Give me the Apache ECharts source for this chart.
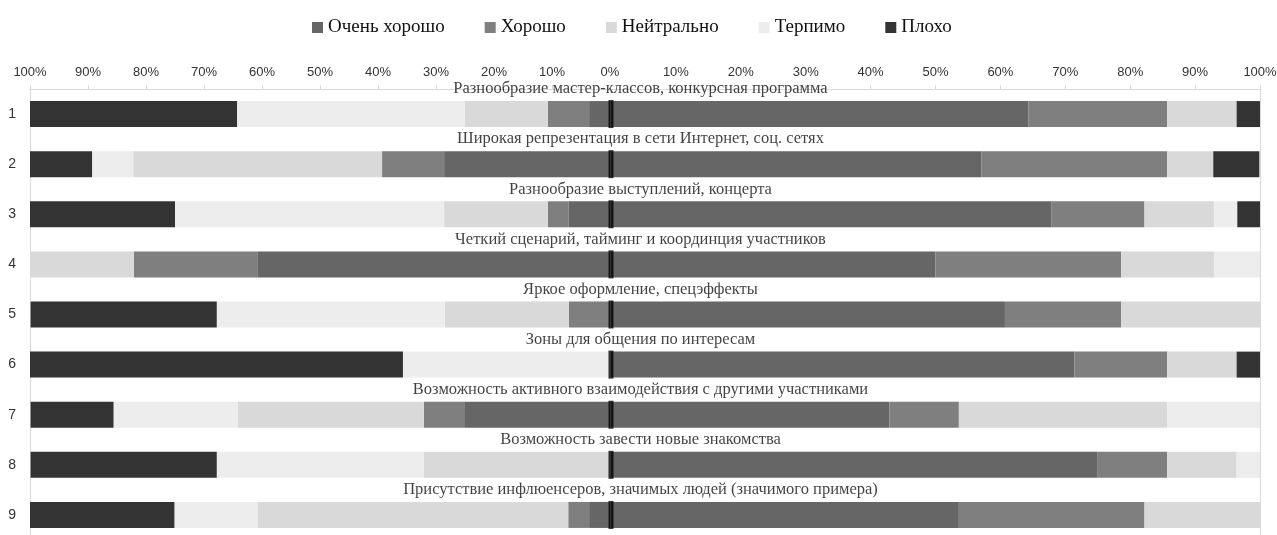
<!DOCTYPE html>
<html>
<head>
<meta charset="utf-8">
<script src="https://cdn.jsdelivr.net/npm/echarts@6/dist/echarts.min.js"></script>
<style>
  html, body { margin: 0; padding: 0; background: #fff; }
  #chart { width: 1277px; height: 535px; }
</style>
</head>
<body>
<div id="chart"></div>
<script>
const rows = ['1', '2', '3', '4', '5', '6', '7', '8', '9'];
const titles = [
  'Разнообразие мастер-классов, конкурсная программа',
  'Широкая репрезентация в сети Интернет, соц. сетях',
  'Разнообразие выступлений, концерта',
  'Четкий сценарий, тайминг и координция участников',
  'Яркое оформление, спецэффекты',
  'Зоны для общения по интересам',
  'Возможность активного взаимодействия с другими участниками',
  'Возможность завести новые знакомства',
  'Присутствие инфлюенсеров, значимых людей (значимого примера)'
];
const names = ['Очень хорошо', 'Хорошо', 'Нейтрально', 'Терпимо', 'Плохо'];
const colors = ['#666666', '#7f7f7f', '#d9d9d9', '#ededed', '#333333'];

// left half, % (drawn from 0 outwards to the left)
const leftVeryGood = [3.6, 28.6, 7.1, 60.7, 0, 0, 25.0, 0, 3.6];
const leftGood = [7.1, 10.7, 3.6, 21.4, 7.1, 0, 7.1, 0, 3.6];
const leftNeutral = [14.3, 42.9, 17.9, 17.9, 21.4, 0, 32.1, 32.1, 53.6];
const leftTolerable = [39.3, 7.1, 46.4, 0, 39.3, 35.7, 21.4, 35.7, 14.3];
const leftBad = [35.7, 10.7, 25.0, 0, 32.1, 64.3, 14.3, 32.1, 25.0];

// right half, %
const rightVeryGood = [64.3, 57.1, 67.9, 50.0, 60.7, 71.4, 42.9, 75.0, 53.6];
const rightGood = [21.4, 28.6, 14.3, 28.6, 17.9, 14.3, 10.7, 10.7, 28.6];
const rightNeutral = [10.7, 7.1, 10.7, 14.3, 21.4, 10.7, 32.1, 10.7, 17.9];
const rightTolerable = [0, 0, 3.6, 7.1, 0, 0, 14.3, 3.6, 0];
const rightBad = [3.6, 7.1, 3.6, 0, 0, 3.6, 0, 0, 0];

const leftData = [leftVeryGood, leftGood, leftNeutral, leftTolerable, leftBad];
const rightData = [rightVeryGood, rightGood, rightNeutral, rightTolerable, rightBad];

const axisGray = '#d9d9d9';
const labelFont = { color: '#333', fontFamily: 'Liberation Sans, Arial', fontSize: 13 };

function pctAxis(idx, inverse) {
  return {
    gridIndex: idx,
    type: 'value',
    min: 0,
    max: 100,
    interval: 10,
    inverse: inverse,
    position: 'top',
    axisLine: { show: true, lineStyle: { color: axisGray } },
    axisTick: { show: true, length: 4, lineStyle: { color: axisGray } },
    axisLabel: Object.assign({ formatter: '{value}%', margin: 10, showMinLabel: inverse }, labelFont),
    splitLine: { show: false }
  };
}

function barSeries(side, data, i) {
  return {
    name: names[i],
    type: 'bar',
    stack: side,
    xAxisIndex: side === 'L' ? 0 : 1,
    yAxisIndex: side === 'L' ? 0 : 1,
    barWidth: 26,
    itemStyle: { color: colors[i] },
    data: data
  };
}

const series = [];
leftData.forEach((d, i) => series.push(barSeries('L', d, i)));
rightData.forEach((d, i) => series.push(barSeries('R', d, i)));

// black zero marker on each row
series.push({
  type: 'scatter',
  xAxisIndex: 1,
  yAxisIndex: 1,
  symbol: 'rect',
  symbolSize: [5, 28],
  itemStyle: { color: '#000' },
  z: 10,
  silent: true,
  clip: false,
  data: rows.map((r, i) => [0, i])
});

// row titles, centred across the whole chart
series.push({
  type: 'scatter',
  xAxisIndex: 2,
  yAxisIndex: 2,
  symbolSize: 1,
  itemStyle: { color: 'transparent' },
  silent: true,
  z: 11,
  label: {
    show: true,
    position: 'inside',
    offset: [2, -25],
    formatter: p => titles[p.dataIndex],
    fontFamily: 'Liberation Serif, Times New Roman',
    fontSize: 16.5,
    color: '#111'
  },
  data: rows.map((r, i) => [0.5, i])
});

const gridBase = { top: 89, height: 451, outerBoundsMode: 'none', containLabel: false };

const option = {
  animation: false,
  backgroundColor: '#fff',
  legend: {
    data: names,
    top: 13,
    left: 307,
    icon: 'rect',
    itemWidth: 11,
    itemHeight: 11,
    itemGap: 40,
    textStyle: { fontFamily: 'Liberation Serif, Times New Roman', fontSize: 19, color: '#111' }
  },
  grid: [
    Object.assign({ left: 30, width: 580 }, gridBase),
    Object.assign({ left: 611, right: 17 }, gridBase),
    Object.assign({ left: 0, right: 0 }, gridBase)
  ],
  xAxis: [
    pctAxis(0, true),
    pctAxis(1, false),
    { gridIndex: 2, type: 'value', min: 0, max: 1, show: false }
  ],
  yAxis: [
    {
      gridIndex: 0, type: 'category', data: rows, inverse: true, position: 'left',
      axisLine: { show: true, onZero: false, lineStyle: { color: axisGray } },
      axisTick: { show: false },
      axisLabel: Object.assign({ margin: 14 }, labelFont, { fontSize: 14 })
    },
    {
      gridIndex: 1, type: 'category', data: rows, inverse: true, position: 'right',
      axisLine: { show: true, onZero: false, lineStyle: { color: axisGray } },
      axisTick: { show: false },
      axisLabel: { show: false }
    },
    { gridIndex: 2, type: 'category', data: rows, inverse: true, show: false }
  ],
  series: series
};

const chart = echarts.init(document.getElementById('chart'));
chart.setOption(option);
</script>
</body>
</html>
